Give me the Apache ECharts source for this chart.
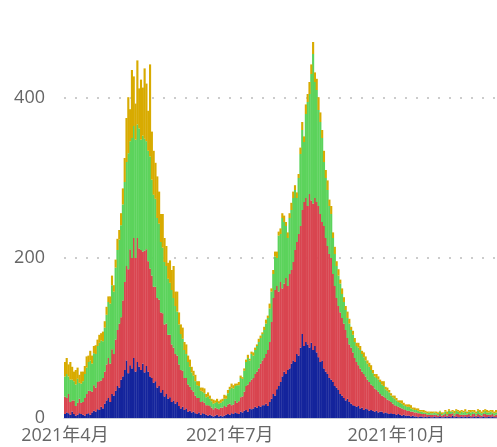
<!DOCTYPE html>
<html>
<head>
<meta charset="utf-8">
<script src="https://cdn.jsdelivr.net/npm/echarts@6/dist/echarts.min.js"></script>
<style>
  html, body { margin: 0; padding: 0; background: #fff; }
  #chart { width: 497px; height: 447px; }
</style>
</head>
<body>
<div id="chart"></div>
<script>
// daily categories from 2021-04-01 (239 days)
const startDay = Date.UTC(2021, 3, 1);
const dayCount = 239;
const days = [];
for (let i = 0; i < dayCount; i++) {
  days.push(new Date(startDay + i * 86400000).toISOString().slice(0, 10));
}
const labelDays = ['2021-04-01', '2021-07-01', '2021-10-01'];
const yTicks = [0, 200, 400];

const blue = [
  5,7,6,4,8,5,3,4,6,5, 4,3,5,6,4,7,9,8,11,10, 14,12,18,22,25,20,30,28,34,40,
  38,48,52,60,72,56,66,62,75,58, 70,64,60,68,57,65,58,52,50,44, 46,38,40,32,35,27,30,24,26,20,
  22,18,20,15,12,14,10,12,8,9, 7,8,6,5,7,4,6,5,4,3, 4,3,2,3,4,2,3,2,3,4,
  5,4,6,5,7,6,5,8,7,9, 10,8,12,11,12,14,13,15,14,16, 16,18,15,20,24,30,28,36,40,45,
  52,58,55,60,62,68,72,70,80,78, 88,105,90,95,92,88,94,85,90,82, 76,70,72,62,58,55,50,48,45,40,
  38,35,30,28,25,22,24,20,18,16, 15,14,15,12,13,10,12,11,9,10, 9,8,9,7,8,8,6,7,6,5,
  6,5,5,4,5,4,3,4,3,3, 3,2,3,2,2,1,2,2,1,2, 1,2,1,1,2,1,1,2,1,1,
  2,1,2,1,3,1,2,1,1,2, 1,2,1,2,1,1,2,1,2,1, 1,2,1,1,2,1,2,1,1
];
const red = [
  22,18,24,16,14,17,12,15,18,14, 16,22,25,28,30,26,32,30,34,36, 33,38,40,45,50,48,56,52,64,70,
  80,78,95,110,118,130,145,138,150,142, 155,148,150,140,152,146,138,135,128,120, 118,112,108,100,96,90,88,80,78,72,
  66,62,58,52,48,45,40,38,34,30, 28,25,22,20,18,16,15,14,12,13, 11,10,9,10,8,9,10,11,12,10,
  12,14,10,12,15,13,16,18,20,24, 30,34,33,37,38,41,45,47,54,56, 59,62,70,75,96,120,132,129,118,125,
  110,110,120,105,118,117,123,140,140,152, 152,155,180,180,173,192,178,183,185,188, 189,185,173,178,167,160,155,152,135,125,
  112,105,102,97,93,88,76,72,70,66, 60,56,51,50,45,45,40,37,36,32, 31,29,26,26,22,20,21,18,17,17,
  14,13,11,11,9,9,9,7,7,6, 6,6,5,5,5,5,4,3,4,3, 3,2,3,3,2,3,2,3,2,3,
  3,2,3,4,3,2,3,4,3,2, 3,2,3,3,2,4,3,2,3,3, 2,3,4,3,2,3,3,2,3
];
const green = [
  25,30,22,28,26,24,27,30,20,24, 26,30,33,36,38,35,40,42,45,48, 50,46,55,62,70,75,80,78,90,100,
  105,115,120,125,130,145,135,150,140,148, 142,150,138,145,140,135,138,140,120,115, 110,100,95,88,82,78,72,70,65,68,
  62,60,55,50,45,40,35,30,28,25, 22,20,18,16,15,14,12,12,10,11, 9,8,7,6,8,7,6,8,9,10,
  14,18,22,20,18,22,20,24,22,26, 30,33,27,32,28,30,32,33,32,33, 35,38,40,42,38,30,42,35,70,60,
  88,77,65,60,70,75,80,75,55,70, 90,100,75,105,130,125,158,187,145,140, 120,115,105,80,75,70,60,55,45,40,
  40,38,36,30,27,25,25,26,22,22, 20,20,22,23,22,21,20,20,19,18, 16,15,15,15,15,14,13,11,11,10,
  8,8,8,7,6,6,6,5,5,5, 5,4,3,3,3,3,2,3,2,2, 2,3,2,2,3,2,2,3,2,2,
  3,2,4,3,2,3,4,3,2,4, 3,4,2,3,4,3,2,3,4,3, 3,2,4,3,3,4,2,3,3
];
const gold = [
  18,20,15,22,16,12,18,14,10,15, 12,10,14,8,12,10,9,11,8,10, 9,12,8,10,7,9,12,8,10,14,
  12,15,20,30,55,70,40,85,62,45, 80,50,75,60,88,72,50,115,60,55, 45,52,40,35,42,30,25,20,28,25,
  40,18,25,15,12,14,10,12,8,9, 7,6,8,5,6,4,5,6,4,5, 4,3,5,3,4,3,4,3,5,4,
  4,3,5,4,3,2,4,3,2,3, 3,4,2,3,4,3,2,4,3,2, 4,5,3,6,4,5,6,8,5,7,
  6,8,5,7,6,9,8,6,7,5, 8,10,7,12,10,15,12,15,12,14, 16,12,10,14,10,12,8,10,7,9,
  6,8,5,7,6,5,8,6,4,5, 5,4,6,5,4,6,5,4,5,6, 4,3,5,4,3,4,6,3,4,3,
  3,2,4,3,2,3,4,3,2,3, 3,4,2,3,2,3,2,2,3,2, 2,1,2,2,1,2,2,1,2,1,
  2,3,2,1,2,3,2,2,3,2, 2,3,2,2,3,2,3,2,2,3, 2,3,2,3,2,2,3,2,3
];

const colors = ['#14249c', '#d94550', '#5cd35c', '#d8ab00'];
const font = "'Open Sans', 'Noto Sans CJK SC', sans-serif";

let chart = echarts.init(document.getElementById('chart'));

function makeSeries(data, i) {
  return {
    type: 'bar',
    stack: 'total',
    data: data,
    barWidth: '118%',
    itemStyle: { color: colors[i] },
    emphasis: { disabled: true }
  };
}

chart.setOption({
  animation: false,
  grid: { left: 64, right: 0, top: 18, bottom: 29 },
  xAxis: {
    type: 'category',
    data: days,
    axisLine: { lineStyle: { color: '#c8ccd8' } },
    axisTick: { interval: 5, alignWithLabel: true, length: 3, lineStyle: { color: '#c8ccd8' } },
    axisLabel: {
      interval: (idx, val) => labelDays.includes(val),
      formatter: (val) => {
        const p = val.split('-');
        return p[0] + '年' + Number(p[1]) + '月';
      },
      color: '#666',
      fontSize: 18,
      fontFamily: font,
      margin: 9
    }
  },
  yAxis: {
    type: 'value',
    min: 0,
    max: 500,
    interval: 200,
    axisLine: { show: false },
    axisTick: { show: false },
    axisLabel: {
      color: '#666',
      fontSize: 18,
      fontFamily: font,
      margin: 19,
      showMaxLabel: false,
      formatter: (v) => yTicks.includes(v) ? String(v) : ''
    },
    splitLine: { showMaxLine: false, lineStyle: { color: '#cccccc', width: 2, type: [2, 9] } }
  },
  series: [blue, red, green, gold].map(makeSeries)
});
</script>
</body>
</html>
